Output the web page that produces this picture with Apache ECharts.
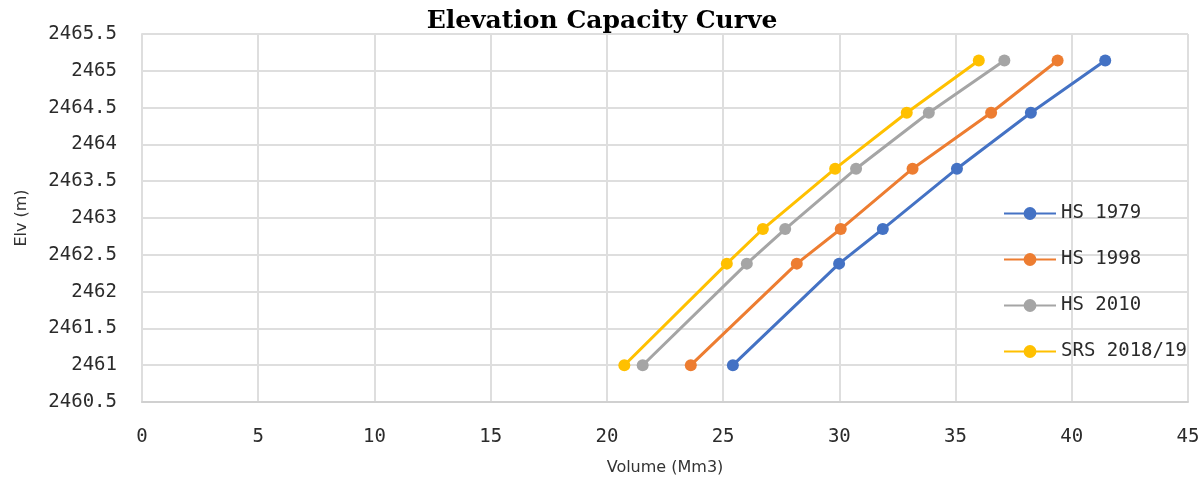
<!DOCTYPE html>
<html>
<head>
<meta charset="utf-8">
<script src="https://cdn.jsdelivr.net/npm/echarts@6/dist/echarts.min.js"></script>
<style>
  html, body { margin: 0; padding: 0; background: #fff; }
  #chart { width: 1204px; height: 491px; }
</style>
</head>
<body>
<div id="chart"></div>
<script>
// Elevation (m) at each surveyed level
const elevations = [2461, 2462.38, 2462.85, 2463.67, 2464.43, 2465.14];

// Storage volume (Mm3) per survey at those elevations
const hs1979 = [25.42, 29.99, 31.87, 35.06, 38.24, 41.44];
const hs1998 = [23.61, 28.17, 30.06, 33.15, 36.53, 39.39];
const hs2010 = [21.54, 26.02, 27.67, 30.72, 33.85, 37.10];
const srs2018 = [20.75, 25.16, 26.71, 29.82, 32.90, 36.00];

const seriesNames = ['HS 1979', 'HS 1998', 'HS 2010', 'SRS 2018/19'];
const seriesColors = ['#4472C4', '#ED7D31', '#A5A5A5', '#FFC000'];
const seriesValues = [hs1979, hs1998, hs2010, srs2018];

const labelFont = 'DejaVu Sans Mono';

const chart = echarts.init(document.getElementById('chart'));
chart.setOption({
  animation: false,
  backgroundColor: '#fff',
  title: {
    text: 'Elevation Capacity Curve',
    left: 'center',
    top: 4,
    textStyle: {
      fontFamily: 'DejaVu Serif',
      fontWeight: 'bold',
      fontSize: 25,
      color: '#000'
    }
  },
  grid: { left: 142, right: 16, top: 34, bottom: 89 },
  legend: {
    orient: 'vertical',
    left: 998,
    top: 199,
    itemWidth: 52,
    itemHeight: 16,
    itemGap: 27,
    data: seriesNames,
    textStyle: { fontFamily: labelFont, fontSize: 19, color: '#2b2b2b' }
  },
  xAxis: {
    type: 'value',
    min: 0, max: 45, interval: 5,
    name: 'Volume (Mm3)',
    nameLocation: 'middle',
    nameGap: 58,
    nameTextStyle: { fontFamily: 'DejaVu Sans', fontSize: 16, color: '#333' },
    axisLine: { show: true, lineStyle: { color: '#d0d0d0', width: 2 } },
    axisTick: { show: false },
    axisLabel: { fontFamily: labelFont, fontSize: 19, color: '#2b2b2b', margin: 26 },
    splitLine: { show: true, lineStyle: { color: '#dedede', width: 2 } }
  },
  yAxis: {
    type: 'value',
    min: 2460.5, max: 2465.5, interval: 0.5,
    name: 'Elv (m)',
    nameLocation: 'middle',
    nameGap: 112,
    nameRotate: 90,
    nameTextStyle: { fontFamily: 'DejaVu Sans', fontSize: 16, color: '#333' },
    axisLine: { show: true, lineStyle: { color: '#dedede', width: 2 } },
    axisTick: { show: false },
    axisLabel: {
      fontFamily: labelFont, fontSize: 19, color: '#2b2b2b', margin: 25,
      formatter: v => String(v)
    },
    splitLine: { show: true, lineStyle: { color: '#dedede', width: 2 } }
  },
  series: seriesNames.map((name, i) => ({
    name: name,
    type: 'line',
    data: seriesValues[i].map((v, k) => [v, elevations[k]]),
    symbol: 'circle',
    symbolSize: 12,
    lineStyle: { width: 3, color: seriesColors[i] },
    itemStyle: { color: seriesColors[i] }
  }))
});
</script>
</body>
</html>
